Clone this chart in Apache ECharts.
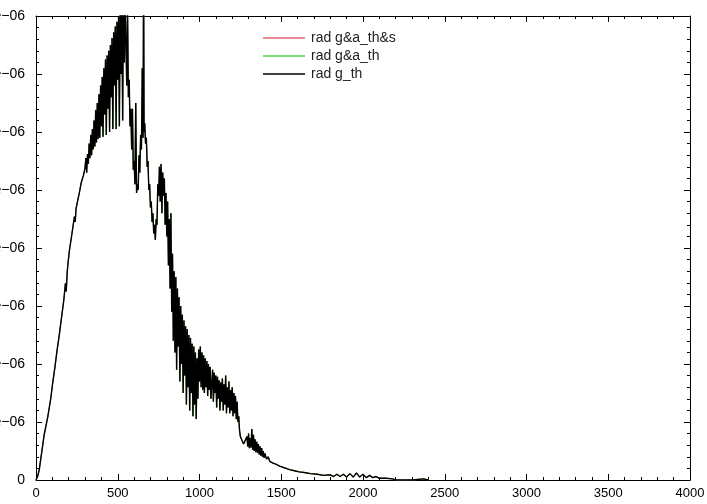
<!DOCTYPE html>
<html>
<head>
<meta charset="utf-8">
<script src="https://cdn.jsdelivr.net/npm/echarts@6/dist/echarts.min.js"></script>
<style>
  html, body { margin: 0; padding: 0; background: #fff; }
  #chart { width: 707px; height: 504px; }
</style>
</head>
<body>
<div id="chart"></div>
<script>
/* data; y values are in units of 1e-06 */
const seriesNames = ['rad g&a_th&s', 'rad g&a_th', 'rad g_th'];
const xTicks = [0, 500, 1000, 1500, 2000, 2500, 3000, 3500, 4000];
const yTicks = [0, 1, 2, 3, 4, 5, 6, 7, 8];

const radX = [
  0, 10, 20, 37, 50, 72, 90, 102, 115, 129, 140, 157, 170, 180, 185, 190, 195, 205, 220, 235, 240, 245, 250, 265, 276, 290, 300,
  305, 310, 315, 320, 325, 330, 335, 340, 345, 350, 355, 360, 365, 370, 375, 380, 385, 390, 395, 400,
  405, 410, 415, 420, 425, 430, 435, 440, 445, 450, 455, 460, 465, 470, 475, 480, 485, 490, 495, 500,
  505, 510, 515, 520, 525, 530, 535, 540, 545, 550, 555, 560, 565, 570, 575, 580, 585, 590, 595, 600,
  605, 610, 615, 620, 625, 630, 635, 640, 645, 650, 655, 658, 661, 665, 670, 675, 680, 685, 690, 695, 700,
  705, 710, 715, 720, 725, 730, 735, 740, 745, 750, 755, 760, 765, 770, 775, 780, 785, 790, 795, 800,
  805, 810, 815, 820, 825, 830, 835, 840, 845, 850, 855, 860, 865, 870, 875, 880, 885, 890, 895, 900,
  905, 910, 915, 920, 925, 930, 935, 940, 945, 950, 955, 960, 965, 970, 975, 980, 985, 990, 995, 1000,
  1005, 1010, 1015, 1020, 1025, 1030, 1035, 1040, 1045, 1050, 1055, 1060, 1065, 1070, 1080, 1085, 1090, 1095, 1100,
  1105, 1110, 1115, 1120, 1125, 1130, 1135, 1140, 1145, 1150, 1155, 1160, 1165, 1170, 1175, 1180, 1185, 1190, 1195, 1200,
  1205, 1210, 1215, 1220, 1225, 1230, 1235, 1240, 1245, 1250, 1260, 1270, 1280, 1290, 1295, 1300,
  1305, 1310, 1315, 1320, 1325, 1330, 1335, 1340, 1345, 1350, 1355, 1360, 1365, 1370, 1375, 1380, 1385, 1390, 1395, 1400,
  1410, 1420, 1430, 1440, 1450, 1470, 1490, 1510, 1530, 1550, 1580, 1610, 1640, 1680, 1720, 1760, 1800,
  1820, 1840, 1860, 1880, 1900, 1920, 1940, 1960, 1980, 2000, 2020, 2040, 2060, 2080, 2100, 2140, 2180, 2200,
  2300, 2310, 2370, 2380, 2400
];
const radGTh = [
  0, 0.06, 0.18, 0.52, 0.78, 1.09, 1.40, 1.67, 1.93, 2.24, 2.45, 2.82, 3.10, 3.39, 3.25, 3.55, 3.72, 3.97, 4.25, 4.54, 4.45, 4.68, 4.75, 4.95, 5.12, 5.25, 5.38,
  5.55, 5.30, 5.62, 5.45, 5.80, 5.55, 5.95, 5.60, 6.05, 5.70, 6.20, 5.75, 6.38, 5.82, 6.50, 5.88, 6.65, 5.90, 6.80, 6.10,
  6.95, 5.92, 7.10, 6.30, 7.25, 5.95, 7.32, 6.40, 7.40, 6.00, 7.50, 6.60, 7.62, 6.05, 7.72, 6.80, 7.82, 6.05, 7.90, 6.90,
  8.00, 6.10, 8.20, 7.00, 8.30, 6.20, 8.40, 7.20, 8.30, 8.30, 6.80, 8.10, 6.60, 6.90, 6.10, 6.40, 5.70, 6.40, 5.35, 5.50,
  5.10, 6.50, 4.95, 5.10, 5.00, 5.60, 5.30, 5.95, 5.70, 7.10, 5.90, 9.00, 6.00, 6.15, 5.80, 5.90, 5.40, 5.50, 5.00, 5.10, 4.70,
  4.80, 4.45, 4.60, 4.25, 4.40, 4.14, 4.50, 4.40, 5.10, 4.90, 5.40, 4.80, 5.45, 4.60, 5.30, 4.90, 5.20, 4.40, 4.95, 4.20,
  4.80, 3.70, 4.50, 3.30, 4.60, 2.90, 3.90, 2.40, 3.60, 2.20, 3.50, 1.90, 3.30, 2.30, 3.15, 1.70, 3.00, 2.00, 2.85, 1.50,
  2.75, 1.80, 2.65, 1.30, 2.60, 1.60, 2.50, 1.20, 2.45, 1.50, 2.35, 1.10, 2.30, 1.30, 2.20, 1.05, 2.10, 1.40, 2.25, 1.70,
  2.30, 1.60, 2.20, 1.55, 2.15, 1.50, 2.10, 1.60, 2.05, 1.45, 2.00, 1.55, 1.95, 1.40, 1.90, 1.35, 1.85, 1.50, 1.80,
  1.25, 1.78, 1.40, 1.72, 1.20, 1.68, 1.35, 1.75, 1.20, 1.65, 1.30, 1.80, 1.15, 1.60, 1.25, 1.70, 1.15, 1.55, 1.20, 1.60,
  1.10, 1.50, 1.15, 1.45, 1.05, 1.35, 1.00, 1.10, 0.85, 0.75, 0.68, 0.62, 0.60, 0.75, 0.58, 0.80,
  0.55, 0.72, 0.56, 0.88, 0.52, 0.78, 0.50, 0.70, 0.48, 0.66, 0.47, 0.62, 0.44, 0.58, 0.42, 0.55, 0.40, 0.50, 0.38, 0.46,
  0.36, 0.40, 0.32, 0.34, 0.29, 0.27, 0.24, 0.22, 0.20, 0.18, 0.16, 0.14, 0.13, 0.11, 0.10, 0.08, 0.09,
  0.06, 0.10, 0.06, 0.10, 0.05, 0.11, 0.05, 0.12, 0.05, 0.10, 0.04, 0.08, 0.04, 0.06, 0.03, 0.03, 0.02, 0,
  0, 0.02, 0.02, 0, 0
];
/* the other two runs sit under the black one almost everywhere */
const radGaTh = radGTh;
const radGaThS = radGTh;

const colors = ['#e06070', '#4cd64c', '#000000'];
const widths = [1, 1, 1.4];
const seriesValues = [radGaThS, radGaTh, radGTh];

const chart = echarts.init(document.getElementById('chart'), null, { renderer: 'canvas' });

function xAxisCfg (pos, showLabel) {
    return {
        type: 'value',
        position: pos,
        min: xTicks[0],
        max: xTicks[xTicks.length - 1],
        interval: 500,
        axisLine: { show: true, onZero: false, lineStyle: { color: '#000', width: 1 } },
        axisTick: { show: true, inside: true, length: 6, lineStyle: { color: '#000' } },
        minorTick: { show: true, splitNumber: 5, length: 3, lineStyle: { color: '#000' } },
        splitLine: { show: false },
        axisLabel: {
            show: showLabel,
            margin: 7,
            color: '#000',
            fontSize: 13,
            fontFamily: 'Liberation Sans',
            formatter: (v) => String(v)
        }
    };
}
function yAxisCfg (pos, showLabel) {
    return {
        type: 'value',
        position: pos,
        min: yTicks[0],
        max: yTicks[yTicks.length - 1],
        interval: 1,
        axisLine: { show: true, onZero: false, lineStyle: { color: '#000', width: 1 } },
        axisTick: { show: true, inside: true, length: 6, lineStyle: { color: '#000' } },
        minorTick: { show: true, splitNumber: 5, length: 3, lineStyle: { color: '#000' } },
        splitLine: { show: false },
        axisLabel: {
            show: showLabel,
            margin: 11,
            color: '#000',
            fontSize: 14,
            fontFamily: 'Liberation Sans',
            formatter: (v) => (v === 0 ? '0' : v + 'e\u221206')
        }
    };
}

const option = {
    animation: false,
    backgroundColor: '#fff',
    grid: {
        left: 36, right: 17, top: 16, bottom: 24,
        containLabel: false,
        outerBoundsMode: 'none'
    },
    legend: {
        orient: 'vertical',
        left: 258,
        top: 25,
        icon: 'rect',
        itemWidth: 42,
        itemHeight: 1.5,
        itemGap: 2,
        data: seriesNames,
        textStyle: { fontSize: 14, lineHeight: 16, color: '#222', fontFamily: 'Liberation Sans', padding: [0, 0, 0, 1] }
    },
    xAxis: [xAxisCfg('bottom', true), xAxisCfg('top', false)],
    yAxis: [yAxisCfg('left', true), yAxisCfg('right', false)],
    series: seriesNames.map((name, i) => ({
        name: name,
        type: 'line',
        xAxisIndex: 0,
        yAxisIndex: 0,
        symbol: 'none',
        showSymbol: false,
        clip: true,
        color: colors[i],
        lineStyle: { width: widths[i], color: colors[i] },
        data: radX.map((x, k) => [x, seriesValues[i][k]])
    }))
};
chart.setOption(option);
</script>
</body>
</html>
